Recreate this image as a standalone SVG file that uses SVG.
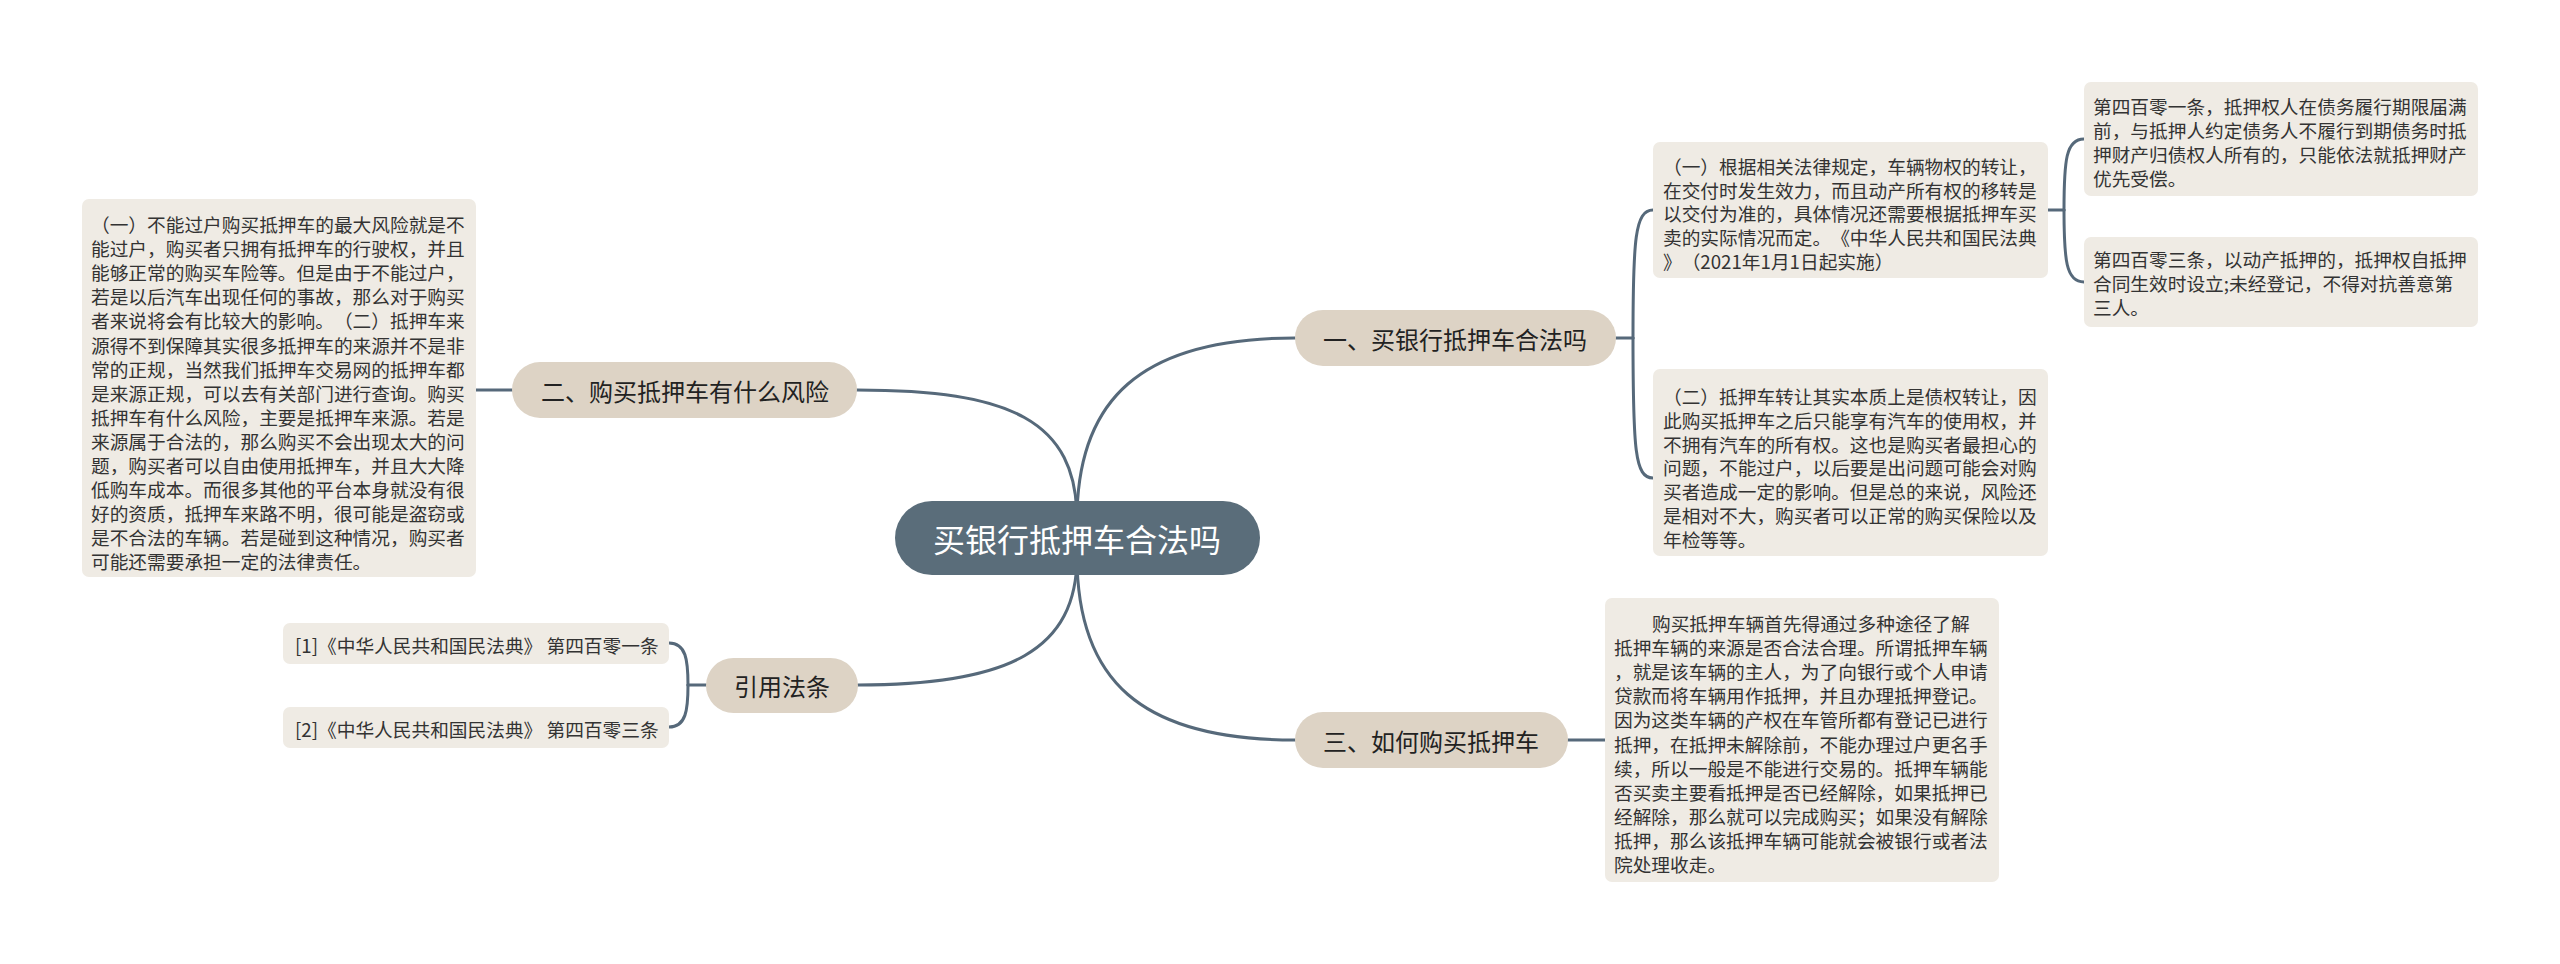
<svg xmlns="http://www.w3.org/2000/svg" width="2560" height="964" viewBox="0 0 2560 964">
<style>
.conn{fill:none;stroke:#56697a;stroke-width:3;stroke-linecap:round}
.root rect{fill:#5a6d7a}
.root text{fill:#ffffff;font-size:32px;text-anchor:middle}
.branch rect{fill:#ddd3c5}
.branch text{fill:#222222;font-size:24px;text-anchor:middle}
.leaf rect{fill:#efebe4}
.leaf text{fill:#333333;font-size:18.7px}
text{font-family:"Noto Sans CJK SC","Noto Sans",sans-serif;dominant-baseline:central;text-spacing-trim:space-all}
</style>
<rect width="2560" height="964" fill="#ffffff"/>
<g id="connectors">
<path class="conn" d="M1077,520 C1077,400 1140,338 1295,338"/>
<path class="conn" d="M1077,520 C1077,420 1010,390 857,390"/>
<path class="conn" d="M1077,556 C1077,650 1010,685 858,685"/>
<path class="conn" d="M1077,556 C1077,680 1140,740 1295,740"/>
<path class="conn" d="M1616,338 L1633,338"/>
<path class="conn" d="M1633,338 C1633,240 1635,210 1653,210"/>
<path class="conn" d="M1633,338 C1633,450 1635,478 1653,478"/>
<path class="conn" d="M2048,210 L2064,210"/>
<path class="conn" d="M2064,210 C2064,160 2066,139 2084,139"/>
<path class="conn" d="M2064,210 C2064,260 2066,282 2084,282"/>
<path class="conn" d="M512,390 L476,390"/>
<path class="conn" d="M706,685 L688,685"/>
<path class="conn" d="M688,685 C688,660 686,643 669,643"/>
<path class="conn" d="M688,685 C688,710 686,727 669,727"/>
<path class="conn" d="M1568,740 L1605,740"/>
</g>
<g id="root" class="root">
<rect x="895" y="501" width="365" height="74" rx="37"/>
<text x="1077" y="538">买银行抵押车合法吗</text>
</g>
<g id="branch1" class="branch">
<rect x="1295" y="310" width="321" height="56" rx="28"/>
<text x="1455" y="338">一、买银行抵押车合法吗</text>
</g>
<g id="branch2" class="branch">
<rect x="512" y="362" width="345" height="56" rx="28"/>
<text x="685" y="390">二、购买抵押车有什么风险</text>
</g>
<g id="branch3" class="branch">
<rect x="706" y="658" width="152" height="55" rx="27.5"/>
<text x="782" y="685">引用法条</text>
</g>
<g id="branch4" class="branch">
<rect x="1295" y="712" width="273" height="56" rx="28"/>
<text x="1431" y="740">三、如何购买抵押车</text>
</g>
<g id="leaf-risk" class="leaf">
<rect x="82" y="199" width="394" height="378" rx="7"/>
<text x="91" y="223">（一）不能过户购买抵押车的最大风险就是不</text>
<text x="91" y="247">能过户，购买者只拥有抵押车的行驶权，并且</text>
<text x="91" y="271">能够正常的购买车险等。但是由于不能过户，</text>
<text x="91" y="295">若是以后汽车出现任何的事故，那么对于购买</text>
<text x="91" y="319">者来说将会有比较大的影响。（二）抵押车来</text>
<text x="91" y="344">源得不到保障其实很多抵押车的来源并不是非</text>
<text x="91" y="368">常的正规，当然我们抵押车交易网的抵押车都</text>
<text x="91" y="392">是来源正规，可以去有关部门进行查询。购买</text>
<text x="91" y="416">抵押车有什么风险，主要是抵押车来源。若是</text>
<text x="91" y="440">来源属于合法的，那么购买不会出现太大的问</text>
<text x="91" y="464">题，购买者可以自由使用抵押车，并且大大降</text>
<text x="91" y="488">低购车成本。而很多其他的平台本身就没有很</text>
<text x="91" y="512">好的资质，抵押车来路不明，很可能是盗窃或</text>
<text x="91" y="536">是不合法的车辆。若是碰到这种情况，购买者</text>
<text x="91" y="560">可能还需要承担一定的法律责任。</text>
</g>
<g id="leaf-legal1" class="leaf">
<rect x="1653" y="142" width="395" height="136" rx="7"/>
<text x="1663" y="165">（一）根据相关法律规定，车辆物权的转让，</text>
<text x="1663" y="189">在交付时发生效力，而且动产所有权的移转是</text>
<text x="1663" y="212">以交付为准的，具体情况还需要根据抵押车买</text>
<text x="1663" y="236">卖的实际情况而定。《中华人民共和国民法典</text>
<text x="1663" y="260">》（2021年1月1日起实施）</text>
</g>
<g id="leaf-legal2" class="leaf">
<rect x="1653" y="369" width="395" height="187" rx="7"/>
<text x="1663" y="395">（二）抵押车转让其实本质上是债权转让，因</text>
<text x="1663" y="419">此购买抵押车之后只能享有汽车的使用权，并</text>
<text x="1663" y="443">不拥有汽车的所有权。这也是购买者最担心的</text>
<text x="1663" y="466">问题，不能过户，以后要是出问题可能会对购</text>
<text x="1663" y="490">买者造成一定的影响。但是总的来说，风险还</text>
<text x="1663" y="514">是相对不大，购买者可以正常的购买保险以及</text>
<text x="1663" y="538">年检等等。</text>
</g>
<g id="leaf-art401" class="leaf">
<rect x="2084" y="82" width="394" height="114" rx="7"/>
<text x="2093" y="105">第四百零一条，抵押权人在债务履行期限届满</text>
<text x="2093" y="129">前，与抵押人约定债务人不履行到期债务时抵</text>
<text x="2093" y="153">押财产归债权人所有的，只能依法就抵押财产</text>
<text x="2093" y="177">优先受偿。</text>
</g>
<g id="leaf-art403" class="leaf">
<rect x="2084" y="237" width="394" height="90" rx="7"/>
<text x="2093" y="258">第四百零三条，以动产抵押的，抵押权自抵押</text>
<text x="2093" y="282">合同生效时设立;未经登记，不得对抗善意第</text>
<text x="2093" y="306">三人。</text>
</g>
<g id="leaf-howto" class="leaf">
<rect x="1605" y="598" width="394" height="284" rx="7"/>
<text x="1652" y="622">购买抵押车辆首先得通过多种途径了解</text>
<text x="1614" y="646">抵押车辆的来源是否合法合理。所谓抵押车辆</text>
<text x="1614" y="670">，就是该车辆的主人，为了向银行或个人申请</text>
<text x="1614" y="694">贷款而将车辆用作抵押，并且办理抵押登记。</text>
<text x="1614" y="718">因为这类车辆的产权在车管所都有登记已进行</text>
<text x="1614" y="743">抵押，在抵押未解除前，不能办理过户更名手</text>
<text x="1614" y="767">续，所以一般是不能进行交易的。抵押车辆能</text>
<text x="1614" y="791">否买卖主要看抵押是否已经解除，如果抵押已</text>
<text x="1614" y="815">经解除，那么就可以完成购买；如果没有解除</text>
<text x="1614" y="839">抵押，那么该抵押车辆可能就会被银行或者法</text>
<text x="1614" y="863">院处理收走。</text>
</g>
<g id="cite1" class="leaf">
<rect x="283" y="623" width="386" height="41" rx="7"/>
<text x="295" y="644">[1]《中华人民共和国民法典》 第四百零一条</text>
</g>
<g id="cite2" class="leaf">
<rect x="283" y="707" width="386" height="41" rx="7"/>
<text x="295" y="728">[2]《中华人民共和国民法典》 第四百零三条</text>
</g>
</svg>
